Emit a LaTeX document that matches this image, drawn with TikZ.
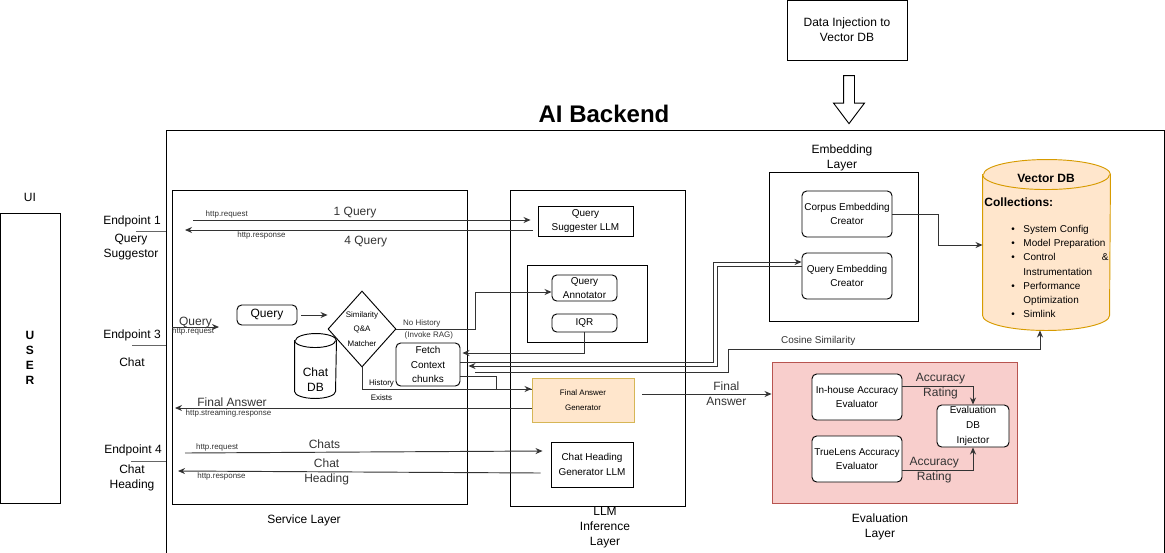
\documentclass[tikz,border=0pt]{standalone}
\usepackage{fontspec}
\setmainfont{Liberation Sans}
\usetikzlibrary{arrows.meta,positioning,calc,shapes.geometric,shapes.arrows}
\definecolor{dbfill}{HTML}{FFE6CC}
\definecolor{dbline}{HTML}{D79B00}
\definecolor{genline}{HTML}{D6B656}
\definecolor{evalfill}{HTML}{F8CECC}
\definecolor{evalline}{HTML}{B85450}
\newcommand{\ftwelve}{\fontsize{10.25}{12.8}\selectfont}
\newcommand{\ften}{\fontsize{8.5}{12.6}\selectfont}
\newcommand{\feight}{\fontsize{6.8}{12.6}\selectfont}
\newcommand{\itm}{\makebox[0.36cm][l]{\textbullet}}
\newcommand{\dbcyl}[4]{%
  \filldraw[#4] ($(#1.north west)+(0,-#3)$) -- ($(#1.south west)+(0,#3)$)
    arc[start angle=180, end angle=360, x radius=#2, y radius=#3]
    -- ($(#1.north east)+(0,-#3)$)
    arc[start angle=0, end angle=180, x radius=#2, y radius=#3] -- cycle;
  \draw[#4] ($(#1.north west)+(0,-#3)$) arc[start angle=180, end angle=360, x radius=#2, y radius=#3];}
\begin{document}
\begin{tikzpicture}[
  x=0.03cm, y=-0.03cm, line width=0.8pt,
  box/.style={draw, align=center, inner sep=1pt, font=\ften},
  rbox/.style={box, rounded corners=4pt},
  lbl/.style={font=\ftwelve, align=center, inner sep=1pt},
  tiny/.style={font=\feight, align=center, inner sep=1pt},
  wire/.style={black!80},
  arr/.style={wire, -{Stealth[length=2.1mm,width=1.8mm]}},
  stub/.style={black!60}
]
  \useasboundingbox (0,0) rectangle (1165,552);

  \node[box, font=\ftwelve, minimum width=3.6cm, minimum height=1.8cm] (inj) at (847,30) {Data Injection to\\Vector DB};
  \node[single arrow, draw, rotate=-90, inner sep=0.15cm, minimum height=1.44cm,
        single arrow head extend=0.3cm, single arrow tip angle=74] (injarrow) at (849,96) {};
  \node[font=\bfseries\fontsize{20.5}{24}\selectfont] (title) at (604,114) {AI Backend};
  \node[draw, minimum width=29.94cm, minimum height=12.9cm, anchor=north west] (backend) at (166,130) {};

  \node[lbl] (ui) at (30,197) {UI};
  \node[box, font=\bfseries\ftwelve, minimum width=1.8cm, minimum height=8.7cm] (user) at (30,358) {U\\S\\E\\R};

  \node[lbl] (ep1) at (132,221) {Endpoint 1};
  \node[lbl] (ep1txt) at (131,247) {Query\\Suggestor};
  \node[lbl] (ep3) at (132,335) {Endpoint 3};
  \node[lbl] (ep3txt) at (132,362) {Chat};
  \node[lbl] (ep4) at (133,450) {Endpoint 4};
  \node[lbl] (ep4txt) at (132,478) {Chat\\Heading};
  \coordinate (e1) at (136,231);
  \coordinate (e3) at (132,345);
  \coordinate (e4) at (131,461);
  \draw[stub] (e1) -- (e1 -| backend.west);
  \draw[stub] (e3) -- (e3 -| backend.west);
  \draw[stub] (e4) -- (e4 -| backend.west);

  % service layer
  \node[box, minimum width=8.85cm, minimum height=9.42cm] (service) at (319.5,347) {};
  \node[lbl] (servicetxt) at (304,520) {Service Layer};
  \node[rbox, font=\ftwelve, minimum width=1.8cm, minimum height=0.6cm] (query) at (267,315) {Query};
  \node[diamond, draw, minimum width=2.04cm, minimum height=2.28cm, inner sep=0] (sim) at (362,329) {};
  \node[tiny] (simtxt) at (sim) {Similarity\\Q\&A\\Matcher};
  \node[minimum width=1.23cm, minimum height=1.92cm] (chatdb) at (315.5,366) {};
  \dbcyl{chatdb}{0.615cm}{0.21cm}{draw, fill=white}
  \node[lbl] (chatdbtxt) at (315.5,379.5) {Chat\\DB};
  \node[rbox, minimum width=1.92cm, minimum height=1.29cm] (fetch) at (428,364.5) {Fetch\\Context\\chunks};
  \node[tiny] (histtxt) at (381.5,390.5) {History\\Exists};

  % llm layer
  \node[box, minimum width=5.25cm, minimum height=9.48cm] (llm) at (597.5,348) {};
  \node[lbl] (llmtxt) at (605,528) {LLM\\Inference\\Layer};
  \node[box, minimum width=2.85cm, minimum height=0.9cm] (qsllm) at (585.5,221) {Query\\Suggester LLM};
  \node[box, minimum width=3.6cm, minimum height=2.31cm] (rag) at (587,303.5) {};
  \node[rbox, inner sep=0pt, minimum width=1.95cm, minimum height=0.78cm] (annot) at (584.5,288) {Query\\Annotator};
  \node[rbox, minimum width=1.95cm, minimum height=0.54cm] (iqr) at (584.5,323) {IQR};
  \node[box, fill=dbfill, draw=genline, font=\feight, minimum width=3.06cm, minimum height=1.32cm] (fag) at (583,400) {Final Answer\\Generator};
  \node[box, minimum width=2.46cm, minimum height=1.35cm] (chg) at (592,464.5) {Chat Heading\\Generator LLM};

  % embedding layer and vector db
  \node[box, minimum width=4.47cm, minimum height=4.47cm] (emb) at (843.5,246.5) {};
  \node[lbl] (embtxt) at (842,158) {Embedding\\Layer};
  \node[rbox, minimum width=2.7cm, minimum height=1.38cm] (corpus) at (847,214) {Corpus Embedding\\Creator};
  \node[rbox, minimum width=2.7cm, minimum height=1.38cm] (qec) at (847,276) {Query Embedding\\Creator};
  \node[minimum width=3.81cm, minimum height=5.1cm] (vdb) at (1046.5,245) {};
  \dbcyl{vdb}{1.905cm}{0.45cm}{draw=dbline, fill=dbfill}
  \node[font=\bfseries\ftwelve] (vdbtxt) at (1046,178) {Vector DB};
  \node[font=\bfseries\ftwelve, anchor=west, inner sep=0] (colltxt) at (984,202) {Collections:};
  \node[font=\fontsize{8.5}{12.2}\selectfont, text width=2.91cm, align=left, anchor=north west, inner sep=0] (coll) at (1011,224.5)
    {\itm System Config\\ \itm Model Preparation\\ \itm Control\hfill\&\\ \hspace*{0.36cm}Instrumentation\\
     \itm Performance\\ \hspace*{0.36cm}Optimization\\ \itm Simlink};

  % evaluation layer
  \node[box, fill=evalfill, draw=evalline, minimum width=7.35cm, minimum height=4.23cm] (eval) at (894.5,432.5) {};
  \node[lbl] (evaltxt) at (880,527) {Evaluation\\Layer};
  \node[rbox, fill=white, minimum width=2.7cm, minimum height=1.38cm] (inh) at (857,397) {In-house Accuracy\\Evaluator};
  \node[rbox, fill=white, minimum width=2.7cm, minimum height=1.38cm] (tl) at (857,459) {TrueLens Accuracy\\Evaluator};
  \node[rbox, fill=white, minimum width=2.16cm, minimum height=1.26cm] (edb) at (973,426) {Evaluation\\DB\\Injector};

  % connectors
  \coordinate (q1s) at (193,220);
  \coordinate (q4e) at (185,230);
  \draw[arr] (q1s) -- ($(qsllm.west)+(-7,-1)$) node[tiny, pos=0.1, above] {http.request} node[lbl, pos=0.48, above] {1 Query};
  \draw[arr] ($(qsllm.west)+(-5,9)$) -- (q4e) node[tiny, pos=0.78, below] {http.response} node[lbl, pos=0.48, below=3.5pt] {4 Query};

  \coordinate (qa) at (172,327);
  \coordinate (qb) at (219,327);
  \draw[arr] (qa) -- (qb) node[lbl, midway, above=-2pt] {Query} node[tiny, pos=0.45, below=-1pt] {http.request};
  \draw[arr] ($(query.east)+(4,0)$) -- (query.east -| sim.west);

  \draw[arr] (sim.east) -- ++(79,0) node[tiny, pos=0.32, above] {No History} node[tiny, pos=0.41, below=1pt] {(Invoke RAG)}
    |- ($(annot.west)+(0,4)$);
  \draw[arr] (sim.south) |- ($(fag.west)+(0,-11)$);
  \draw[wire] ($(fetch.east)+(0,11.5)$) -- ++(36,0) |- ($(fag.west)+(0,-11)$);
  \coordinate (fa) at (175,408);
  \draw[arr] ($(fag.west)+(0,8)$) -- (fa) node[lbl, pos=0.84, above] {Final Answer} node[tiny, pos=0.85, below] {http.streaming.response};

  \draw[arr] (iqr.south) |- ($(fetch.east)+(2,-11.5)$);
  \draw[arr] ($(fetch.east)+(0,-2.5)$) -- ++(253,0) |- ($(qec.west)+(0,-14)$);
  \draw[arr] ($(qec.west)+(0,-10)$) -- ++(-84,0) |- ($(fetch.east)+(8,1.5)$);
  \draw[arr] ($(fetch.east)+(15,7.5)$) -- ++(253,0) |- ($(vdb.south)+(-6.5,19)$) node[font=\ften, pos=0.644, above] {Cosine Similarity}
    -- ($(vdb.south)+(-6.5,0)$);
  \draw[arr] (corpus.east) -- ++(46,0) |- (vdb.west);

  \coordinate (fae) at ($(fag.east)+(8,-6)$);
  \draw[arr] (fae) -- (fae -| eval.west) node[lbl, pos=0.65] {Final\\Answer};
  \draw[arr] ($(inh.east)+(0,-11)$) -| (edb.north) node[lbl, pos=0.27] {Accuracy\\Rating};
  \draw[arr] ($(tl.east)+(0,11)$) -| (edb.south) node[lbl, pos=0.225] {Accuracy\\Rating};

  \coordinate (c1) at (185,453);
  \coordinate (c2) at (178,471);
  \draw[arr] (c1) -- ($(chg.west)+(-8,-13.5)$) node[tiny, pos=0.09, above] {http.request} node[lbl, pos=0.39, above=2pt] {Chats};
  \draw[arr] ($(chg.west)+(-10,8.5)$) -- (c2) node[tiny, pos=0.88, below] {http.response} node[lbl, pos=0.59] {Chat\\Heading};
\end{tikzpicture}
\end{document}
